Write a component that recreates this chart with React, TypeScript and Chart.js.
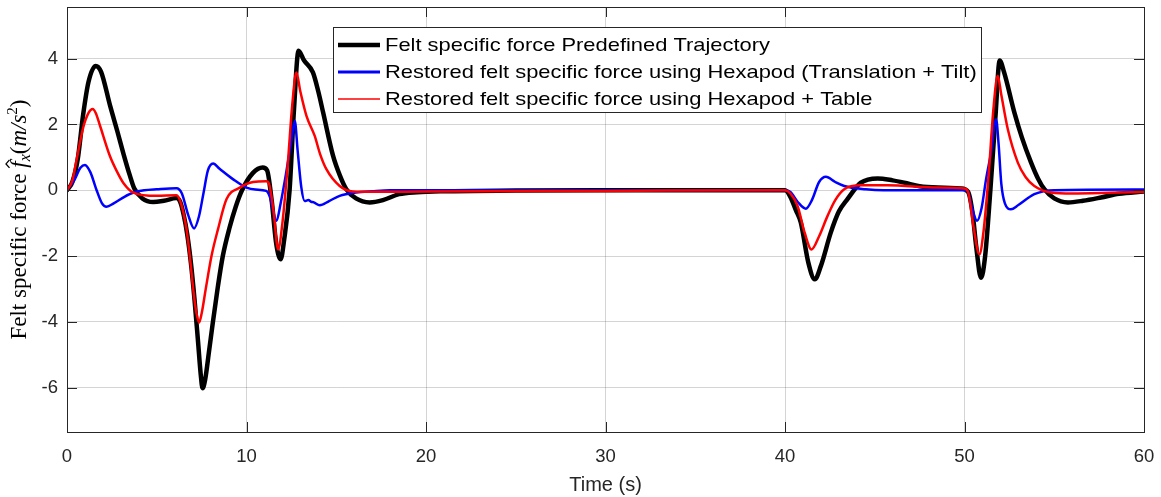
import { useEffect, useRef } from 'react';
import { Chart, registerables } from 'chart.js';

Chart.register(...registerables);

// ---------------- data ----------------
const SERIES_LABELS = [
  'Felt specific force Predefined Trajectory',
  'Restored felt specific force using Hexapod (Translation + Tilt)',
  'Restored felt specific force using Hexapod + Table',
];

const X_TICKS = [0, 10, 20, 30, 40, 50, 60];
const Y_TICKS = [-6, -4, -2, 0, 2, 4];
const X_TITLE = 'Time (s)';

const timeBlack = [0, 0.3, 0.6, 0.9, 1.2, 1.6, 1.9, 2.4, 2.8, 3.15, 3.5, 3.75, 4.2, 4.8, 5.4, 6.1, 6.3, 6.5, 6.7, 6.9, 7.1, 7.3, 7.45, 7.55, 7.7, 7.9, 8.13, 8.4, 8.68, 9.05, 9.4, 9.75, 10.35, 10.9, 11.15, 11.4, 11.65, 11.9, 12.1, 12.4, 12.65, 12.9, 13.2, 13.7, 14.0, 14.27, 14.82, 15.2, 15.56, 16.1, 16.86, 17.6, 18.5, 19.5, 21, 25, 30, 40, 40.3, 40.6, 40.88, 41.3, 41.66, 42.0, 42.55, 43.0, 43.48, 44.23, 45.16, 46.0, 46.64, 47.5, 48.5, 49.8, 50.2, 50.45, 50.65, 50.92, 51.15, 51.44, 51.72, 51.96, 52.2, 52.78, 53.2, 53.71, 54.1, 54.45, 55.0, 55.76, 56.6, 57.61, 58.6, 60];
const forceBlack = [0, 0.25, 0.95, 2.3, 3.3, 3.78, 3.6, 2.57, 1.8, 1.1, 0.45, 0.05, -0.25, -0.36, -0.32, -0.24, -0.35, -0.75, -1.35, -2.2, -3.3, -4.6, -5.6, -6.02, -5.75, -4.95, -4.0, -2.95, -2.0, -1.15, -0.5, 0.0, 0.52, 0.69, 0.6, -0.3, -1.6, -2.1, -1.5, 0.0, 2.5, 4.24, 3.95, 3.58, 3.0, 2.36, 1.05, 0.45, 0.03, -0.25, -0.37, -0.3, -0.12, -0.06, -0.03, -0.01, 0, 0, -0.2, -0.6, -0.98, -2.2, -2.71, -2.3, -1.29, -0.65, -0.27, 0.23, 0.36, 0.3, 0.23, 0.12, 0.08, 0.05, -0.05, -0.7, -1.7, -2.66, -2.0, 0.0, 2.2, 3.94, 3.6, 2.36, 1.6, 0.84, 0.35, 0.03, -0.25, -0.37, -0.32, -0.22, -0.11, -0.04];

const timeBlue = [0, 0.4, 0.75, 1.0, 1.3, 1.65, 1.95, 2.2, 2.6, 3.2, 3.7, 4.3, 5.0, 6.1, 6.4, 6.75, 7.08, 7.35, 7.6, 7.85, 8.14, 8.5, 9.26, 10.0, 10.5, 11.1, 11.3, 11.67, 11.9, 12.2, 12.5, 12.69, 12.85, 13.05, 13.24, 13.45, 13.6, 13.75, 14.08, 14.6, 15.19, 16.1, 17, 18, 40, 40.3, 40.7, 41.16, 41.5, 41.9, 42.28, 42.8, 43.3, 44.5, 45.5, 50.1, 50.2, 50.45, 50.7, 50.95, 51.2, 51.48, 51.76, 51.9, 52.05, 52.25, 52.59, 53.0, 53.89, 55.0, 60];
const forceBlue = [0, 0.3, 0.68, 0.77, 0.55, 0.0, -0.4, -0.5, -0.4, -0.2, -0.07, 0.0, 0.03, 0.06, -0.1, -0.75, -1.16, -0.8, -0.1, 0.6, 0.81, 0.65, 0.33, 0.08, 0.02, -0.02, -0.2, -0.93, -0.4, 0.5, 1.5, 2.11, 1.2, 0.1, -0.33, -0.3, -0.35, -0.37, -0.46, -0.33, -0.17, -0.07, -0.03, 0, 0, -0.05, -0.35, -0.56, -0.3, 0.25, 0.41, 0.25, 0.13, 0.03, 0.0, 0.0, -0.05, -0.6, -0.93, -0.55, 0.33, 1.15, 2.16, 1.4, 0.2, -0.4, -0.58, -0.45, -0.12, 0.0, 0.02];

const timeRed = [0, 0.3, 0.54, 0.9, 1.2, 1.43, 1.6, 1.84, 2.39, 2.8, 3.13, 3.69, 4.99, 6.1, 6.35, 6.66, 6.84, 7.05, 7.2, 7.36, 7.5, 7.73, 8.05, 8.41, 8.89, 9.63, 10.37, 11.1, 11.25, 11.5, 11.76, 12.0, 12.3, 12.55, 12.78, 13.0, 13.34, 13.8, 14.1, 14.45, 15.19, 15.93, 17, 20, 30, 40, 40.3, 40.7, 41.1, 41.48, 41.9, 42.37, 42.8, 43.3, 44.23, 45.7, 48.5, 49.99, 50.2, 50.5, 50.83, 51.05, 51.35, 51.6, 51.85, 52.05, 52.41, 52.97, 53.4, 53.89, 54.82, 56, 58, 60];
const forceRed = [0, 0.3, 0.94, 1.9, 2.35, 2.47, 2.35, 1.96, 1.04, 0.55, 0.23, -0.07, -0.17, -0.15, -0.4, -1.19, -2.0, -3.1, -3.7, -4.02, -3.75, -3.0, -2.0, -1.19, -0.27, 0.08, 0.25, 0.27, 0.2, -0.6, -1.8, -1.0, 0.8, 2.6, 3.58, 3.0, 2.26, 1.65, 1.1, 0.64, 0.13, -0.04, -0.05, -0.04, -0.02, 0.0, -0.1, -0.48, -1.3, -1.8, -1.4, -0.78, -0.3, 0.03, 0.15, 0.15, 0.08, 0.05, -0.05, -1.1, -1.95, -1.3, 0.5, 2.4, 3.48, 2.9, 1.86, 0.84, 0.4, 0.13, -0.07, -0.1, -0.08, -0.05];

const toPoints = (t: number[], v: number[]) => t.map((x, i) => ({ x, y: v[i] }));

const AXIS_COLOR = '#262626';
const SANS = '"Liberation Sans", Arial, sans-serif';
const SERIF = '"Liberation Serif", "DejaVu Serif", serif';

export default function App() {
  const ref = useRef<HTMLCanvasElement>(null);

  useEffect(() => {
    document.body.style.margin = '0';
    const canvas = ref.current!;

    const framePlugin = {
      id: 'frame',
      afterDatasetsDraw(chart: any) {
        const { ctx, chartArea: a, scales } = chart;
        ctx.save();
        ctx.strokeStyle = AXIS_COLOR;
        ctx.lineWidth = 1;
        const tl = 10;
        ctx.beginPath();
        X_TICKS.forEach((v) => {
          const x = Math.round(scales.x.getPixelForValue(v)) + 0.5;
          ctx.moveTo(x, a.bottom); ctx.lineTo(x, a.bottom - tl);
          ctx.moveTo(x, a.top); ctx.lineTo(x, a.top + tl);
        });
        Y_TICKS.forEach((v) => {
          const y = Math.round(scales.y.getPixelForValue(v)) + 0.5;
          ctx.moveTo(a.left, y); ctx.lineTo(a.left + tl, y);
          ctx.moveTo(a.right, y); ctx.lineTo(a.right - tl, y);
        });
        ctx.stroke();
        ctx.strokeRect(Math.round(a.left) + 0.5, Math.round(a.top) + 0.5, Math.round(a.right - a.left), Math.round(a.bottom - a.top));
        ctx.restore();
      },
    };

    const legendPlugin = {
      id: 'boxLegend',
      afterDraw(chart: any) {
        const { ctx } = chart;
        const ds = chart.data.datasets;
        const box = { x: 333.5, y: 27.5, w: 648, h: 85 };
        ctx.save();
        ctx.fillStyle = '#ffffff';
        ctx.fillRect(box.x, box.y, box.w, box.h);
        ctx.strokeStyle = AXIS_COLOR;
        ctx.lineWidth = 1;
        ctx.strokeRect(box.x, box.y, box.w, box.h);
        ctx.font = `18.5px ${SANS}`;
        const sx = 385 / ctx.measureText(ds[0].label).width;
        const rows = [45, 72, 99];
        const legendWidths = [4.5, 3, 1.3];
        ds.forEach((d: any, i: number) => {
          ctx.strokeStyle = d.borderColor;
          ctx.lineWidth = legendWidths[i];
          ctx.beginPath();
          ctx.moveTo(338, rows[i]);
          ctx.lineTo(380, rows[i]);
          ctx.stroke();
          ctx.save();
          ctx.translate(385, rows[i]);
          ctx.scale(sx, 1);
          ctx.fillStyle = '#000000';
          ctx.textBaseline = 'middle';
          ctx.textAlign = 'left';
          ctx.fillText(d.label, 0, 1);
          ctx.restore();
        });
        ctx.restore();
      },
    };

    const yTitlePlugin = {
      id: 'yTitle',
      afterDraw(chart: any) {
        const { ctx, chartArea: a } = chart;
        const big = 23;
        const segs = [
          { t: 'Felt specific force ', f: `${big}px ${SERIF}`, dy: 0 },
          { t: 'f', f: `italic ${big}px ${SERIF}`, dy: 0, hat: true },
          { t: 'x', f: `italic 16px ${SERIF}`, dy: 4 },
          { t: '(', f: `${big}px ${SERIF}`, dy: 0 },
          { t: 'm/s', f: `italic ${big}px ${SERIF}`, dy: 0 },
          { t: '2', f: `15px ${SERIF}`, dy: -9 },
          { t: ')', f: `${big}px ${SERIF}`, dy: 0 },
        ];
        ctx.save();
        let total = 0;
        const widths = segs.map((s) => {
          ctx.font = s.f;
          const w = ctx.measureText(s.t).width;
          total += w;
          return w;
        });
        const cy = (a.top + a.bottom) / 2;
        ctx.translate(20, cy);
        ctx.rotate(-Math.PI / 2);
        ctx.fillStyle = '#000000';
        ctx.textBaseline = 'alphabetic';
        ctx.textAlign = 'left';
        let x = -total / 2;
        const base = 6;
        segs.forEach((s: any, i) => {
          ctx.font = s.f;
          ctx.fillText(s.t, x, base + s.dy);
          if (s.hat) {
            const cx = x + widths[i] * 0.6;
            const top = base - 20;
            ctx.strokeStyle = '#000000';
            ctx.lineWidth = 1.3;
            ctx.beginPath();
            ctx.moveTo(cx - 4, top + 3.5);
            ctx.lineTo(cx, top);
            ctx.lineTo(cx + 4, top + 3.5);
            ctx.stroke();
          }
          x += widths[i];
        });
        ctx.restore();
      },
    };

    const chart = new Chart(canvas, {
      type: 'line',
      data: {
        datasets: [
          {
            label: SERIES_LABELS[0],
            data: toPoints(timeBlack, forceBlack),
            borderColor: '#000000',
            borderWidth: 4.5,
            order: 3,
          },
          {
            label: SERIES_LABELS[1],
            data: toPoints(timeBlue, forceBlue),
            borderColor: '#0000ff',
            borderWidth: 2.5,
            order: 2,
          },
          {
            label: SERIES_LABELS[2],
            data: toPoints(timeRed, forceRed),
            borderColor: '#ff0000',
            borderWidth: 2.5,
            order: 1,
          },
        ],
      },
      options: {
        animation: false,
        responsive: true,
        maintainAspectRatio: false,
        parsing: false as any,
        elements: {
          point: { radius: 0 },
          line: { cubicInterpolationMode: 'monotone', borderCapStyle: 'round', borderJoinStyle: 'round' },
        },
        layout: { padding: { top: 7, right: 17, left: 0, bottom: 0 } },
        plugins: {
          legend: { display: false },
          tooltip: { enabled: false },
        },
        scales: {
          x: {
            type: 'linear',
            min: 0,
            max: 60,
            afterBuildTicks: (s: any) => { s.ticks = X_TICKS.map((v) => ({ value: v })); },
            afterFit: (s: any) => { s.height = 65; s.paddingLeft = 0; s.paddingRight = 0; },
            ticks: {
              color: AXIS_COLOR,
              font: { family: SANS, size: 18.5 },
              padding: 14,
              maxRotation: 0,
              autoSkip: false,
            },
            grid: { color: 'rgba(0,0,0,0.17)', drawTicks: false },
            border: { display: false },
            title: {
              display: true,
              text: X_TITLE,
              color: AXIS_COLOR,
              font: { family: SANS, size: 20 },
              padding: { top: 0, bottom: 0 },
            },
          },
          y: {
            type: 'linear',
            min: -7.35,
            max: 5.57,
            afterBuildTicks: (s: any) => { s.ticks = Y_TICKS.map((v) => ({ value: v })); },
            afterFit: (s: any) => { s.width = 67; s.paddingTop = 0; s.paddingBottom = 0; },
            ticks: {
              color: AXIS_COLOR,
              font: { family: SANS, size: 18.5 },
              padding: 9,
              autoSkip: false,
            },
            grid: { color: 'rgba(0,0,0,0.17)', drawTicks: false },
            border: { display: false },
          },
        },
      },
      plugins: [framePlugin, legendPlugin, yTitlePlugin],
    } as any);

    return () => chart.destroy();
  }, []);

  return (
    <div style={{ width: 1161, height: 497, position: 'relative' }}>
      <canvas ref={ref} />
    </div>
  );
}
